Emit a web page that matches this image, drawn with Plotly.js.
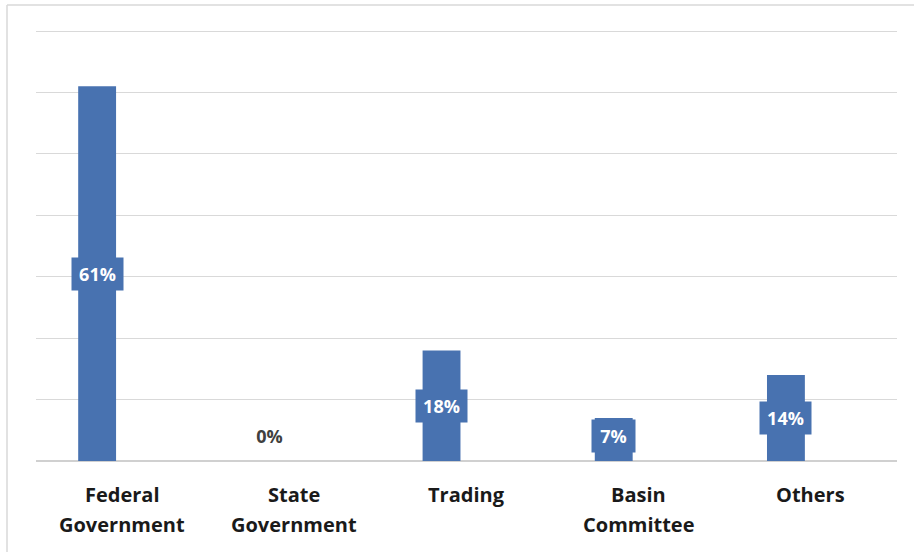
<!DOCTYPE html>
<html>
<head>
<meta charset="utf-8">
<script src="https://cdn.plot.ly/plotly-3.0.1.min.js"></script>
<style>
  html, body { margin: 0; padding: 0; background: #ffffff; }
  #chart { width: 914px; height: 552px; }
</style>
</head>
<body>
<div id="chart"></div>
<script>
// Data
const categories = ['Federal Government', 'State Government', 'Trading', 'Basin Committee', 'Others'];
const labelLine1 = ['Federal', 'State', 'Trading', 'Basin', 'Others'];
const labelLine2 = ['Government', 'Government', '', 'Committee', ''];
const values = [61, 0, 18, 7, 14];
const valueLabels = ['61%', '0%', '18%', '7%', '14%'];
const gridTicks = [0, 10, 20, 30, 40, 50, 60, 70];

const barColor = '#4872b0';
const font = 'Open Sans, Lato, sans-serif';

// bar geometry (category units): bars sit left of the category centre
const barWidth = 0.22;
const barShift = -0.145;

const annotations = [];
categories.forEach((c, i) => {
  const v = values[i];
  const txt = valueLabels[i];
  annotations.push({
    x: i + barShift, xref: 'x', y: Math.max(v / 2, 4), yref: 'y',
    text: '<b>' + txt + '</b>',
    showarrow: false,
    font: { family: font, size: 18, color: v > 0 ? '#ffffff' : '#404040' },
    bgcolor: v > 0 ? barColor : 'rgba(0,0,0,0)',
    borderpad: 4,
    width: 8 * txt.length + 19,
    xanchor: 'center', yanchor: 'middle'
  });
  annotations.push({
    x: i, xref: 'x', y: 0, yref: 'paper',
    text: '<b>' + labelLine1[i] + '</b>',
    showarrow: false, xanchor: 'center', yanchor: 'middle', yshift: -33,
    font: { family: font, size: 20, color: '#1a1a1a' }
  });
  if (labelLine2[i]) {
    annotations.push({
      x: i, xref: 'x', y: 0, yref: 'paper',
      text: '<b>' + labelLine2[i] + '</b>',
      showarrow: false, xanchor: 'center', yanchor: 'middle', yshift: -63,
      font: { family: font, size: 20, color: '#1a1a1a' }
    });
  }
});

const trace = {
  type: 'bar',
  x: categories,
  y: values,
  width: barWidth,
  offset: barShift - barWidth / 2,
  marker: { color: barColor },
  hoverinfo: 'none'
};

const L = 36, R = 17, T = 28, B = 91, W = 914, H = 552;
const pw = W - L - R, ph = H - T - B;

const layout = {
  width: W, height: H,
  margin: { l: L, r: R, t: T, b: B, pad: 0 },
  paper_bgcolor: '#ffffff',
  plot_bgcolor: '#ffffff',
  showlegend: false,
  xaxis: {
    type: 'category',
    range: [-0.5, 4.5],
    showticklabels: false,
    showgrid: false,
    zeroline: false,
    showline: false,
    ticks: ''
  },
  yaxis: {
    range: [0, 70.5],
    tickvals: gridTicks,
    showticklabels: false,
    showgrid: true,
    gridcolor: '#d9d9d9',
    gridwidth: 1,
    zeroline: true,
    zerolinecolor: '#d0d0d0',
    zerolinewidth: 1.5,
    showline: false,
    ticks: ''
  },
  annotations: annotations,
  shapes: [
    { type: 'line', xref: 'paper', yref: 'paper',
      x0: (7 - L) / pw, x1: (W - L) / pw, y0: (H - B - 5) / ph, y1: (H - B - 5) / ph,
      line: { color: '#d9d9d9', width: 1.5 } },
    { type: 'line', xref: 'paper', yref: 'paper',
      x0: (7 - L) / pw, x1: (7 - L) / pw, y0: (H - B - 5) / ph, y1: -B / ph,
      line: { color: '#d9d9d9', width: 1.5 } }
  ]
};

Plotly.newPlot('chart', [trace], layout, { displayModeBar: false, staticPlot: true });
</script>
</body>
</html>
